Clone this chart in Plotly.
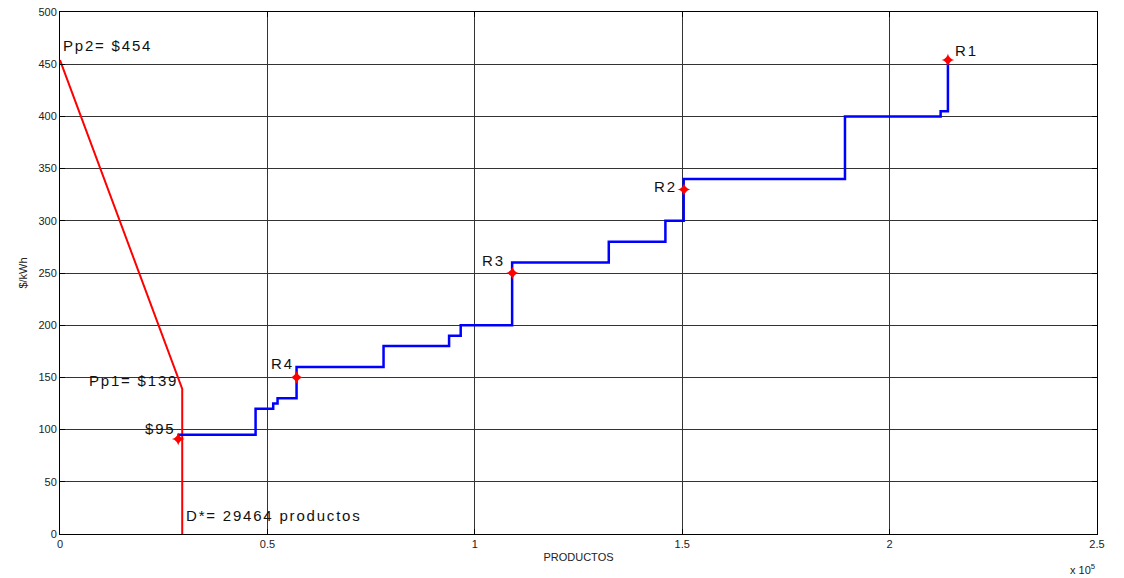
import plotly.graph_objects as go

# demanda (rojo)
demand_x = [0, 29464, 29464]
demand_y = [454, 139, 0]

# oferta escalonada (azul)
supply_x = [28300, 47150, 51400, 52450, 57030, 78000, 93800, 96600,
            109000, 132300, 145950, 150360, 189240, 212300, 214060]
supply_y = [95, 120, 125, 130, 160, 180, 190, 200,
            260, 280, 300, 340, 400, 405, 454]

# puntos marcados
mark_x = [214060, 150440, 109080, 57030, 28500]
mark_y = [454, 330, 250, 150, 91]

xtick_vals = [0, 50000, 100000, 150000, 200000, 250000]
xtick_text = ["0", "0.5", "1", "1.5", "2", "2.5"]
ytick_vals = [0, 50, 100, 150, 200, 250, 300, 350, 400, 450, 500]

FONT = "Liberation Sans, Arial"

fig = go.Figure()

fig.add_trace(go.Scatter(x=demand_x, y=demand_y, mode="lines",
                         line=dict(color="#ff0000", width=2), showlegend=False))
fig.add_trace(go.Scatter(x=supply_x, y=supply_y, mode="lines", line_shape="hv",
                         line=dict(color="#0000ff", width=2.5), showlegend=False))
fig.add_trace(go.Scatter(x=mark_x, y=mark_y, mode="markers",
                         marker=dict(symbol="star-diamond", size=9, color="#ff0000"),
                         showlegend=False))

lab_font = dict(family=FONT, size=15, color="#111111")
labels = [
    (300, 468, "Pp2= $454", "left"),
    (29000, 147, "Pp1= $139", "right"),
    (28300, 101, "$95", "right"),
    (30000, 18, "D*= 29464 productos", "left"),
    (56800, 163, "R4", "right"),
    (107800, 262, "R3", "right"),
    (149300, 333, "R2", "right"),
    (215300, 463, "R1", "left"),
]
for x, y, t, side in labels:
    fig.add_annotation(x=x, y=y, text='<span style="letter-spacing:1.8px">' + t + "</span>",
                       showarrow=False, font=lab_font, xanchor=side, yanchor="middle")

fig.add_annotation(x=1.0, y=-0.067, xref="paper", yref="paper",
                   text="x 10<sup>5</sup>", showarrow=False,
                   font=dict(family=FONT, size=11, color="#222222"),
                   xanchor="right", yanchor="middle")

axis_common = dict(showline=True, linecolor="black", linewidth=1, mirror="ticks",
                   ticks="inside", ticklen=5, tickcolor="black",
                   showgrid=True, gridcolor="#333333", gridwidth=1, zeroline=False,
                   ticklabeloverflow="allow",
                   tickfont=dict(family=FONT, size=11, color="#222222"))

fig.update_xaxes(range=[0, 250000], tickvals=xtick_vals, ticktext=xtick_text,
                 title=dict(text="PRODUCTOS", standoff=4,
                            font=dict(family=FONT, size=11, color="#222222")),
                 automargin=False, **axis_common)
fig.update_yaxes(range=[0, 500], tickvals=ytick_vals,
                 title=dict(text="$/kWh", standoff=8,
                            font=dict(family=FONT, size=11, color="#222222")),
                 automargin=False, **axis_common)

# la página añade ~8px de margen, se compensa aquí
fig.update_layout(width=1124, height=578, plot_bgcolor="white", paper_bgcolor="white",
                  margin=dict(l=52, r=35, t=4, b=52, autoexpand=False))

fig.write_html("out.html")
